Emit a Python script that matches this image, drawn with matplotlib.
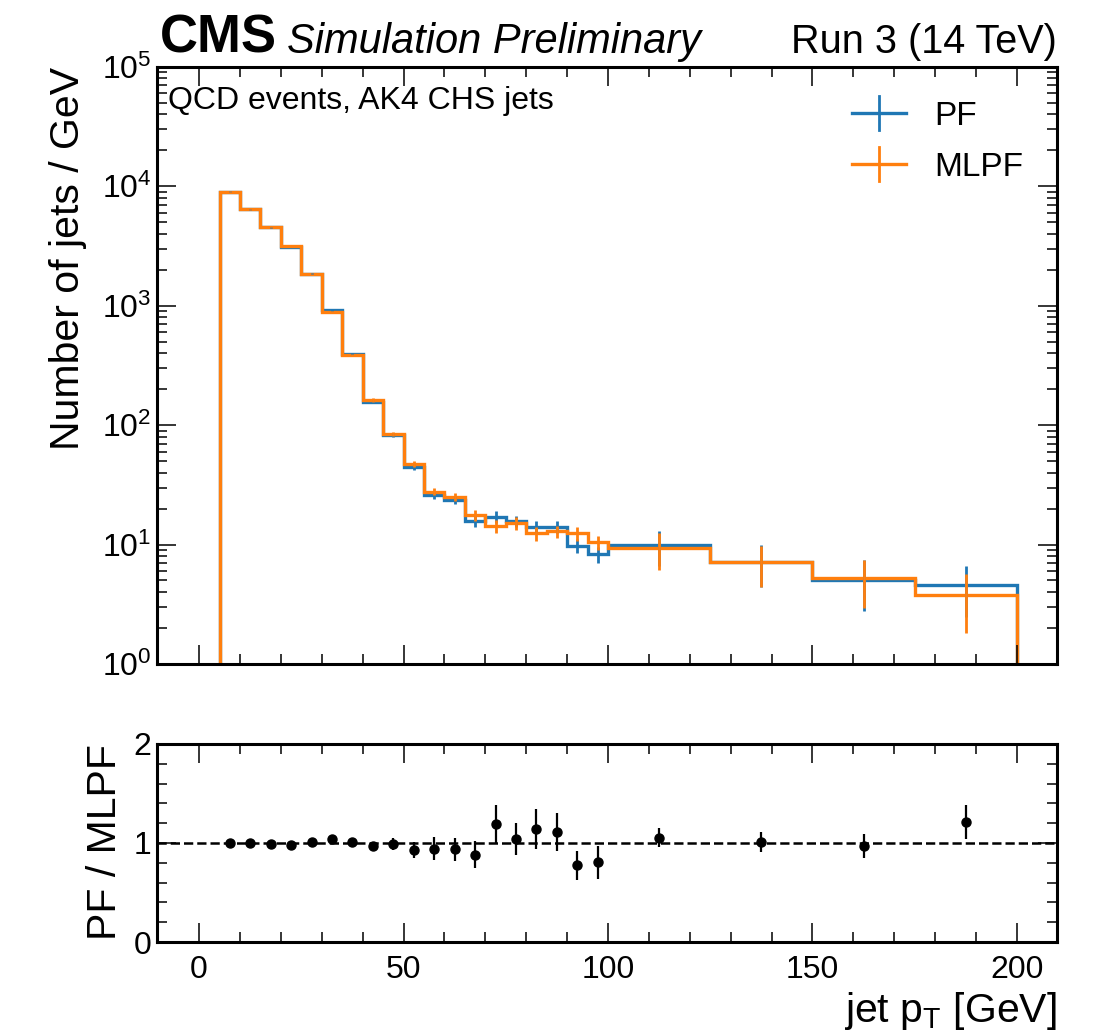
import numpy as np
import matplotlib
matplotlib.use("Agg")
import matplotlib.pyplot as plt
from matplotlib.lines import Line2D
from matplotlib.legend_handler import HandlerBase
from matplotlib.ticker import MultipleLocator, LogLocator, NullFormatter

plt.rcParams['font.family'] = ['Liberation Sans', 'DejaVu Sans']
plt.rcParams['mathtext.fontset'] = 'custom'
plt.rcParams['mathtext.rm'] = 'Liberation Sans'
plt.rcParams['mathtext.it'] = 'Liberation Sans:italic'
plt.rcParams['mathtext.bf'] = 'Liberation Sans:bold'
plt.rcParams['mathtext.default'] = 'regular'

# jet pT binning (GeV)
edges = [5, 10, 15, 20, 25, 30, 35, 40, 45, 50, 55, 60, 65, 70, 75, 80,
         85, 90, 95, 100, 125, 150, 175, 200]

# number of jets / GeV
pf = [8990, 6400, 4520, 3100, 1850, 919, 391, 157, 83.3, 44.5, 25.8, 23.6,
      15.7, 17.1, 15.7, 14.1, 14.1, 9.8, 8.3, 9.85, 7.14, 5.05, 4.56]
mlpf = [8990, 6400, 4580, 3160, 1840, 884, 388, 162, 83.9, 47.2, 27.7, 24.9,
        17.6, 14.3, 15.2, 12.4, 12.9, 12.4, 10.4, 9.36, 7.1, 5.2, 3.76]
pf_err = [40, 33, 28, 23, 17, 12, 8, 5, 3.2, 2.8, 1.9, 1.8, 1.7, 1.9, 1.7,
          1.6, 1.7, 1.3, 1.3, 3.2, 2.7, 2.3, 2.1]
mlpf_err = [40, 33, 28, 23, 17, 12, 8, 5, 3.2, 2.4, 1.8, 1.9, 1.9, 1.75, 1.85,
            1.75, 1.5, 1.6, 1.4, 3.2, 2.7, 2.25, 1.95]

# PF / MLPF
ratio = [1.003, 0.997, 0.987, 0.98, 1.007, 1.04, 1.007, 0.97, 0.993, 0.93,
         0.943, 0.936, 0.882, 1.19, 1.04, 1.14, 1.108, 0.774, 0.805, 1.054,
         1.01, 0.973, 1.215]
ratio_err = [0.01, 0.01, 0.012, 0.015, 0.02, 0.025, 0.03, 0.04, 0.06, 0.084,
             0.114, 0.118, 0.135, 0.19, 0.165, 0.2, 0.19, 0.146, 0.165, 0.095,
             0.105, 0.12, 0.17]

BLUE = '#1f77b4'
ORANGE = '#ff7f0e'


class HandlerCross(HandlerBase):
    """Legend handle: horizontal step line with a vertical error bar."""

    def create_artists(self, legend, orig_handle, xdescent, ydescent,
                       width, height, fontsize, trans):
        c = orig_handle.get_color()
        lw = orig_handle.get_linewidth()
        yc = 0.5 * height - ydescent
        xc = 0.5 * width - xdescent
        half = 0.52 * fontsize
        h = Line2D([-xdescent, width - xdescent], [yc, yc], color=c, lw=lw,
                   transform=trans)
        v = Line2D([xc, xc], [yc - half, yc + half], color=c, lw=2,
                   transform=trans)
        return [h, v]


def style_axis(ax):
    ax.tick_params(which='both', direction='in', top=True, right=True)
    ax.tick_params(which='major', length=14, width=1.1)
    ax.tick_params(which='minor', length=7, width=1.1)
    ax.tick_params(axis='x', labelsize=23, pad=9)
    ax.tick_params(axis='y', labelsize=23, pad=4)
    for s in ax.spines.values():
        s.set_linewidth(2.2)


def plot_jet_pt():
    centers = 0.5 * (np.array(edges[1:]) + np.array(edges[:-1]))

    fig = plt.figure(figsize=(11.03, 10.36), dpi=100)
    ax = fig.add_axes([0.1423, 0.3591, 0.816, 0.5765])
    rax = fig.add_axes([0.1423, 0.0907, 0.816, 0.1912], sharex=ax)

    ax.set_yscale('log')
    handles = []
    for vals, errs, c in [(pf, pf_err, BLUE), (mlpf, mlpf_err, ORANGE)]:
        ax.stairs(vals, edges, baseline=0, color=c, lw=2.4)
        ax.errorbar(centers, vals, yerr=errs, fmt='none', ecolor=c, elinewidth=2)
        handles.append(Line2D([], [], color=c, lw=2.4))

    ax.set_xlim(-10.3, 209.8)
    ax.set_ylim(1, 1e5)
    ax.set_ylabel('Number of jets / GeV', fontsize=29.5, loc='top', labelpad=10.5)
    ax.yaxis.set_major_locator(LogLocator(base=10, numticks=10))
    ax.yaxis.set_minor_locator(LogLocator(base=10, subs=np.arange(2, 10), numticks=20))
    ax.yaxis.set_minor_formatter(NullFormatter())
    ax.xaxis.set_major_locator(MultipleLocator(50))
    ax.xaxis.set_minor_locator(MultipleLocator(10))
    style_axis(ax)
    ax.tick_params(axis='x', labelbottom=False)

    ax.legend(handles, ['PF', 'MLPF'], handler_map={Line2D: HandlerCross()},
              loc='upper right', bbox_to_anchor=(0.963, 0.943), frameon=False,
              fontsize=24, handlelength=1.62, handletextpad=0.87,
              labelspacing=0.6, borderpad=0, borderaxespad=0)

    ax.text(0.012, 0.929, 'QCD events, AK4 CHS jets', transform=ax.transAxes,
            fontsize=23, va='baseline', ha='left')
    ax.text(0.003, 1.0235, 'CMS', transform=ax.transAxes, fontsize=38,
            fontweight='bold', va='baseline', ha='left')
    ax.text(0.1444, 1.0235, 'Simulation Preliminary', transform=ax.transAxes,
            fontsize=30, style='italic', va='baseline', ha='left')
    ax.text(1.0, 1.0235, 'Run 3 (14 TeV)', transform=ax.transAxes, fontsize=28.5,
            va='baseline', ha='right')

    rax.errorbar(centers, ratio, yerr=ratio_err, fmt='o', color='black',
                 markersize=6.5, elinewidth=1.6)
    rax.axhline(1, color='black', ls='--', lw=1.8)
    rax.set_ylim(0, 2)
    rax.yaxis.set_major_locator(MultipleLocator(1))
    rax.yaxis.set_minor_locator(MultipleLocator(0.2))
    rax.set_ylabel('PF / MLPF', fontsize=29.5, loc='top', labelpad=7)
    rax.set_xlabel('jet $p_T$ [GeV]', fontsize=29.5, loc='right')
    style_axis(rax)

    fig.savefig('out.png', dpi=100)
    plt.close(fig)


if __name__ == "__main__":
    plot_jet_pt()
